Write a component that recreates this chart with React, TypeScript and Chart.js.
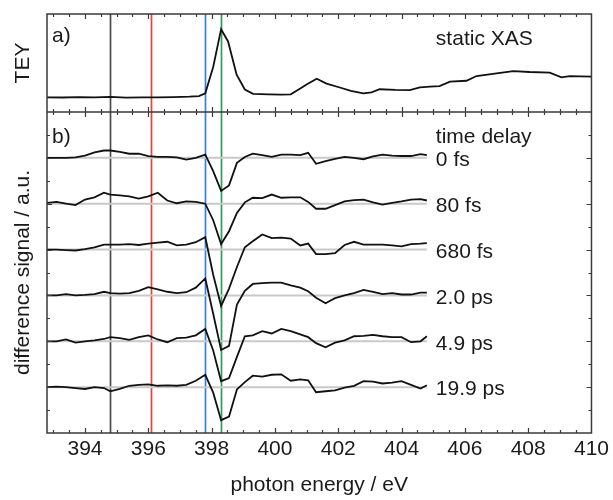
import { useEffect, useRef } from "react";
import { Chart, registerables } from "chart.js";

Chart.register(...registerables);

// Photon energy grid of the pump-probe difference spectra (eV)
const energy = [
  392.8, 393.1, 393.4, 393.7, 394.0, 394.3, 394.6, 394.8, 395.1, 395.4,
  395.7, 396.0, 396.3, 396.6, 396.9, 397.2, 397.5, 397.8, 398.05, 398.3,
  398.55, 398.8, 399.05, 399.3, 399.6, 399.9, 400.2, 400.5, 400.8, 401.05,
  401.3, 401.6, 401.9, 402.2, 402.5, 402.8, 403.1, 403.4, 403.7, 404.0,
  404.3, 404.6, 404.8,
];

const diff0fs = [
  0.0, 0.0, 0.0, 0.01, 0.05, 0.12, 0.16, 0.16, 0.13, 0.09,
  0.09, 0.04, 0.02, 0.02, 0.01, -0.04, 0.0, 0.07, -0.29, -0.72,
  -0.6, -0.11, 0.02, 0.09, 0.06, 0.02, 0.07, 0.07, 0.06, 0.11,
  -0.13, -0.07, -0.02, 0.02, 0.0, -0.03, 0.03, 0.07, 0.05, 0.04,
  0.04, 0.08, 0.06,
];
const diff80fs = [
  0.02, 0.04, 0.0, -0.03, 0.09, 0.14, 0.24, 0.2, 0.18, 0.16,
  0.11, 0.16, 0.24, 0.07, 0.01, 0.05, 0.04, 0.0, -0.36, -0.88,
  -0.6, -0.2, 0.03, 0.13, 0.12, 0.2, 0.13, 0.14, 0.14, 0.04,
  -0.11, -0.11, -0.03, 0.05, 0.08, 0.09, 0.03, -0.02, 0.02, 0.05,
  0.09, 0.1, 0.07,
];
const diff680fs = [
  0.0, 0.0, -0.01, -0.02, 0.01, 0.05, 0.11, 0.11, 0.11, 0.12,
  0.1, 0.13, 0.15, 0.17, 0.09, 0.11, 0.16, 0.27, -0.55, -1.23,
  -0.85, -0.38, 0.05, 0.18, 0.33, 0.25, 0.26, 0.24, 0.09, 0.13,
  -0.1, -0.1, -0.08, 0.1, 0.17, 0.11, 0.11, 0.11, 0.09, 0.07,
  0.12, 0.13, 0.14,
];
const diff2ps = [
  0.0, 0.0, 0.03, 0.0, 0.01, 0.03, 0.08, 0.05, 0.04, 0.05,
  0.1, 0.18, 0.13, 0.08, 0.05, 0.07, 0.17, 0.37, -0.4, -1.19,
  -1.1, -0.2, 0.1, 0.25, 0.27, 0.28, 0.28, 0.22, 0.17, 0.09,
  -0.05, -0.17, -0.06, 0.0, 0.05, 0.12, 0.08, 0.03, 0.05, 0.02,
  0.02, 0.06, 0.06,
];
const diff4p9ps = [
  0.0, 0.0, 0.04, -0.03, 0.0, 0.02, 0.05, 0.09, 0.07, 0.03,
  0.09, 0.13, 0.04, -0.02, 0.07, 0.08, 0.13, 0.27, -0.2, -0.87,
  -0.8, -0.34, 0.11, 0.13, 0.22, 0.17, 0.27, 0.22, 0.15, 0.09,
  -0.04, -0.13, -0.03, 0.02, 0.11, 0.12, 0.14, 0.11, 0.09, 0.09,
  -0.02, 0.0, 0.11,
];
const diff19p9ps = [
  0.0, 0.01, 0.0, -0.02, -0.04, 0.0, -0.02, -0.09, -0.04, 0.03,
  0.05, 0.06, 0.03, 0.04, 0.03, 0.05, 0.14, 0.27, -0.12, -0.72,
  -0.64, -0.05, 0.11, 0.25, 0.23, 0.27, 0.28, 0.14, 0.17, 0.15,
  -0.11, -0.09, -0.07, -0.01, 0.03, 0.13, 0.12, 0.08, 0.1, 0.13,
  0.05, -0.03, 0.04,
];

const delayLabels = ["0 fs", "80 fs", "680 fs", "2.0 ps", "4.9 ps", "19.9 ps"];
const delayOffsets = [5, 4, 3, 2, 1, 0];
const delaySeries = [diff0fs, diff80fs, diff680fs, diff2ps, diff4p9ps, diff19p9ps];

// Static X-ray absorption spectrum (total electron yield, normalised)
const xasEnergy = [
  392.8, 393.3, 393.8, 394.3, 394.8, 395.3, 395.8, 396.3, 396.8, 397.3,
  397.6, 397.8, 398.05, 398.3, 398.52, 398.79, 399.05, 399.31, 399.8, 400.2,
  400.5, 400.8, 401.0, 401.32, 401.63, 402.05, 402.4, 402.79, 403.05, 403.31,
  403.8, 404.26, 404.58, 404.9, 405.2, 405.53, 406.05, 406.37, 407.0, 407.53,
  408.05, 408.68, 409.05, 409.31, 410.0,
];
const xasTey = [
  0.15, 0.148, 0.152, 0.149, 0.155, 0.147, 0.149, 0.15, 0.152, 0.156,
  0.163, 0.19, 0.46, 0.845, 0.72, 0.38, 0.23, 0.185, 0.18, 0.178,
  0.18, 0.24, 0.28, 0.34, 0.29, 0.25, 0.215, 0.19, 0.2, 0.232,
  0.225, 0.224, 0.252, 0.258, 0.265, 0.309, 0.319, 0.367, 0.395, 0.418,
  0.408, 0.401, 0.354, 0.367, 0.36,
];

// Marker energies (vertical lines) and their colours
const markerEnergies = [394.8, 396.1, 397.8, 398.3];
const markerColors = ["#4a4a4a", "#e8423c", "#3a7edc", "#2f9d57"];

const xTickValues = [394, 396, 398, 400, 402, 404, 406, 408, 410];

const FONT = "'Liberation Sans', Arial, Helvetica, sans-serif";
const FONT_SIZE = 21;
const TEXT = "#1a1a1a";
const FRAME = "#3a3a3a";

const panelPlugin = {
  id: "panelDecor",
  beforeDatasetsDraw(chart: any) {
    const { ctx, chartArea, scales } = chart;
    ctx.save();
    ctx.lineWidth = 1.7;
    markerEnergies.forEach((e, i) => {
      const x = Math.round(scales.x.getPixelForValue(e)) + 0.5;
      ctx.strokeStyle = markerColors[i];
      ctx.beginPath();
      ctx.moveTo(x, chartArea.top);
      ctx.lineTo(x, chartArea.bottom);
      ctx.stroke();
    });
    ctx.restore();
  },
  afterDraw(chart: any) {
    const { ctx, chartArea, scales } = chart;
    const xs = scales.x;
    const yTop = scales.yTop;
    const yBot = scales.yBot;
    const { left, right, top, bottom } = chartArea;
    const sep = yTop.bottom;
    ctx.save();
    ctx.strokeStyle = FRAME;
    ctx.lineWidth = 1.5;
    ctx.strokeRect(left, top, right - left, bottom - top);
    ctx.beginPath();
    ctx.moveTo(left, sep);
    ctx.lineTo(right, sep);
    ctx.stroke();

    // inward x ticks on every horizontal border
    ctx.lineWidth = 1.2;
    ctx.beginPath();
    for (let v = 393; v < 410; v += 0.5) {
      const major = v % 2 === 0;
      const len = major ? 5 : 3;
      const x = Math.round(xs.getPixelForValue(v)) + 0.5;
      ctx.moveTo(x, top);
      ctx.lineTo(x, top + len);
      ctx.moveTo(x, sep);
      ctx.lineTo(x, sep - len);
      ctx.moveTo(x, sep);
      ctx.lineTo(x, sep + len);
      ctx.moveTo(x, bottom);
      ctx.lineTo(x, bottom - len);
    }
    // inward y ticks on the lower panel
    for (let v = -0.5; v < 6; v += 0.5) {
      const major = Number.isInteger(v);
      const len = major ? 5 : 3;
      const y = Math.round(yBot.getPixelForValue(v)) + 0.5;
      ctx.moveTo(left, y);
      ctx.lineTo(left + len, y);
      ctx.moveTo(right, y);
      ctx.lineTo(right - len, y);
    }
    ctx.stroke();

    // panel annotations
    ctx.fillStyle = TEXT;
    ctx.font = `${FONT_SIZE}px ${FONT}`;
    ctx.textBaseline = "alphabetic";
    ctx.textAlign = "left";
    ctx.fillText("a)", left + 5, top + 28);
    ctx.fillText("b)", left + 5, sep + 31);
    const labelX = xs.getPixelForValue(energy[energy.length - 1]) + 9;
    ctx.fillText("static XAS", labelX, top + 30.5);
    ctx.fillText("time delay", labelX, yBot.getPixelForValue(delayOffsets[0]) - 14.5);
    delayLabels.forEach((lab, i) => {
      ctx.fillText(lab, labelX, yBot.getPixelForValue(delayOffsets[i]) + 8.3);
    });
    ctx.restore();
  },
};

export default function App() {
  const canvasRef = useRef<HTMLCanvasElement | null>(null);

  useEffect(() => {
    const canvas = canvasRef.current;
    if (!canvas) return;

    const baselineSets = delayOffsets.map((off) => ({
      data: [
        { x: energy[0], y: off },
        { x: energy[energy.length - 1], y: off },
      ],
      yAxisID: "yBot",
      borderColor: "#c9c9c9",
      borderWidth: 2,
      pointRadius: 0,
      order: 3,
    }));

    const traceSets = delaySeries.map((vals, i) => ({
      data: energy.map((e, k) => ({ x: e, y: delayOffsets[i] + vals[k] })),
      yAxisID: "yBot",
      borderColor: "#111111",
      borderWidth: 1.8,
      pointRadius: 0,
      tension: 0,
      order: 1,
    }));

    const xasSet = {
      data: xasEnergy.map((e, k) => ({ x: e, y: xasTey[k] })),
      yAxisID: "yTop",
      borderColor: "#111111",
      borderWidth: 1.8,
      pointRadius: 0,
      tension: 0,
      order: 1,
    };

    const textFont = { family: FONT, size: FONT_SIZE };

    const chart = new Chart(canvas, {
      type: "line",
      data: { datasets: [...baselineSets, ...traceSets, xasSet] as any },
      options: {
        responsive: false,
        animation: false,
        devicePixelRatio: 1,
        layout: { padding: { left: 0, right: 21, top: 14, bottom: 0 } },
        plugins: { legend: { display: false }, tooltip: { enabled: false } },
        scales: {
          x: {
            type: "linear",
            position: "bottom",
            min: 392.8,
            max: 410,
            afterBuildTicks: (s: any) => {
              s.ticks = xTickValues.map((v) => ({ value: v }));
            },
            ticks: {
              font: textFont,
              color: TEXT,
              padding: 4,
              maxRotation: 0,
              autoSkip: false,
              callback: (v: any) => String(v),
            },
            grid: { display: false, drawTicks: false },
            border: { display: false },
            title: {
              display: true,
              text: "photon energy / eV",
              font: textFont,
              color: TEXT,
              padding: { top: 0, bottom: 2 },
            },
            afterFit: (s: any) => {
              s.height = 67;
            },
          },
          // stacked panels: first listed sits lowest
          yBot: {
            type: "linear",
            position: "left",
            stack: "panels",
            stackWeight: 321,
            min: -1,
            max: 6,
            ticks: { display: false },
            grid: { display: false },
            border: { display: false },
            title: {
              display: true,
              text: "difference signal / a.u.",
              font: textFont,
              color: TEXT,
              padding: { top: 11, bottom: 0 },
            },
            afterFit: (s: any) => {
              s.width = 47;
            },
          },
          yTop: {
            type: "linear",
            position: "left",
            stack: "panels",
            stackWeight: 98,
            min: 0,
            max: 1,
            ticks: { display: false },
            grid: { display: false },
            border: { display: false },
            title: {
              display: true,
              text: "TEY",
              font: textFont,
              color: TEXT,
              padding: { top: 11, bottom: 0 },
            },
            afterFit: (s: any) => {
              s.width = 47;
            },
          },
        },
      } as any,
      plugins: [panelPlugin],
    });

    return () => chart.destroy();
  }, []);

  return (
    <div style={{ position: "fixed", left: 0, top: 0, width: 613, height: 500, background: "#fff" }}>
      <canvas ref={canvasRef} width={613} height={500} style={{ display: "block" }} />
    </div>
  );
}
